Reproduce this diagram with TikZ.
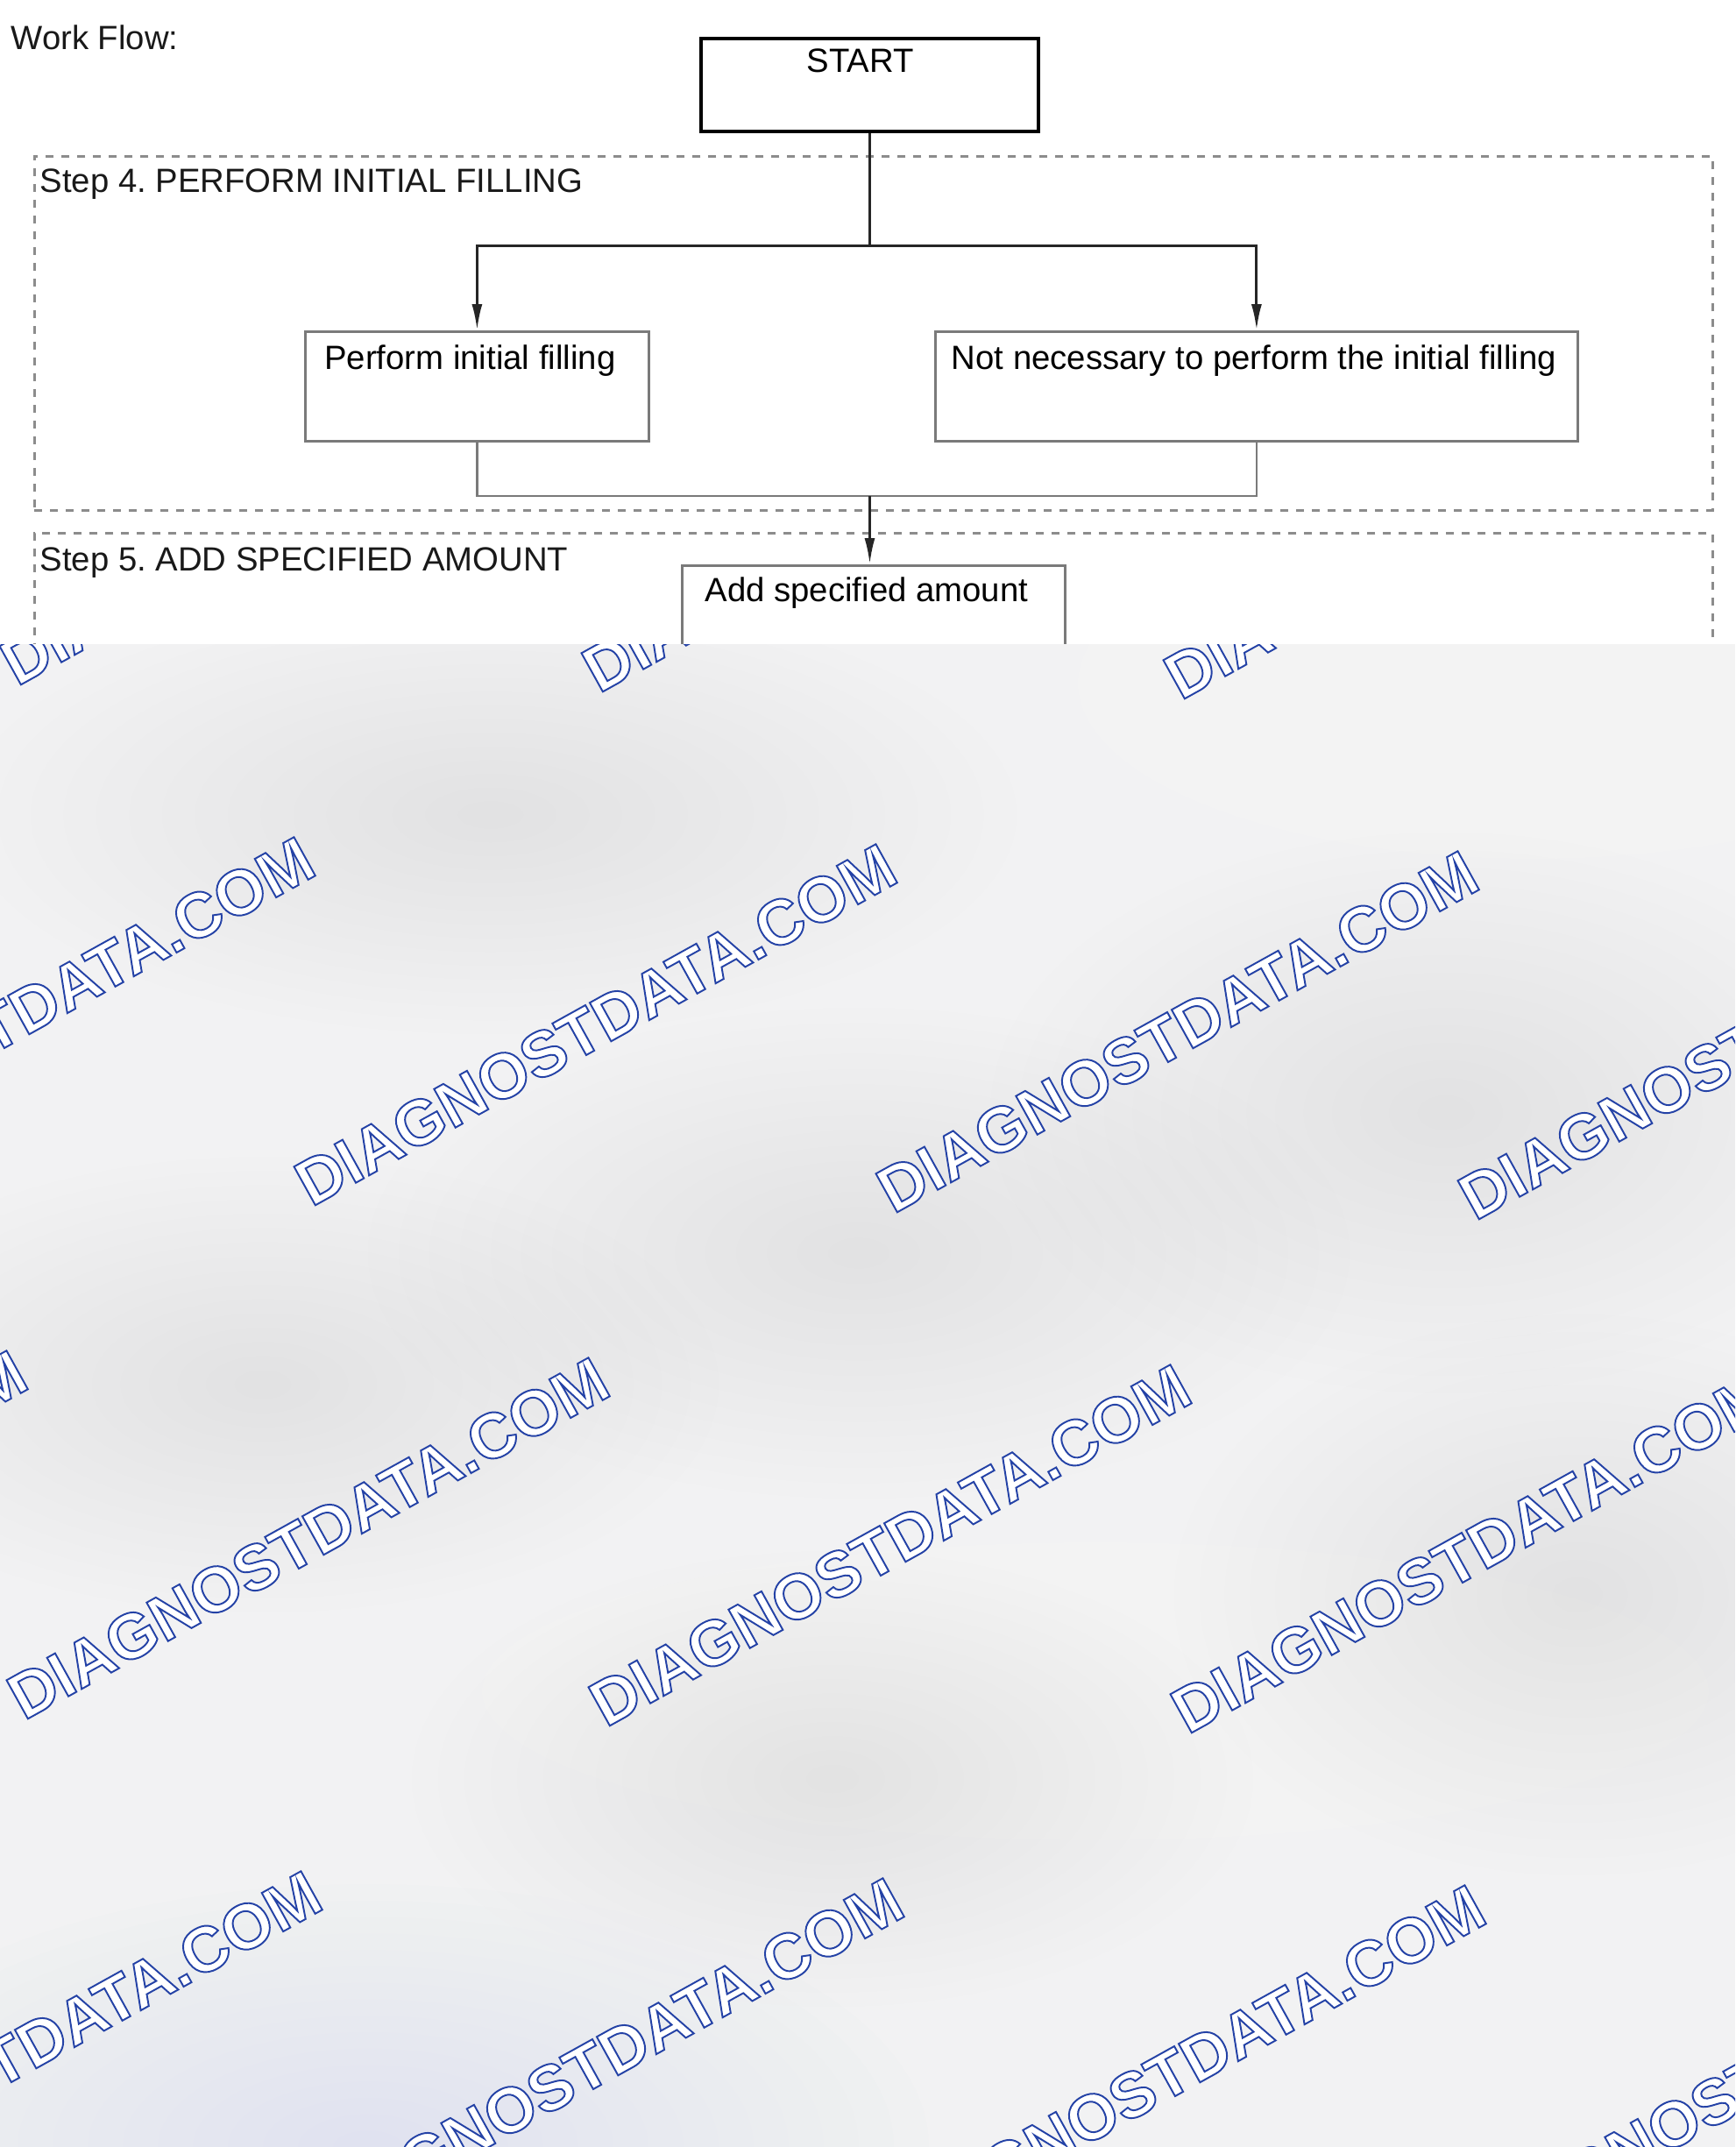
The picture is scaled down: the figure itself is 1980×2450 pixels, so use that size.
\documentclass[tikz,border=0pt]{standalone}
\usepackage{fontspec}
\setmainfont{Liberation Sans}
\newfontfamily\wmfont{Liberation Sans}
\usetikzlibrary{arrows.meta}
\frenchspacing
\definecolor{boxgray}{HTML}{7A7A7A}
\definecolor{dashgray}{HTML}{8C8C8C}
\definecolor{linedark}{HTML}{262626}
\definecolor{bgbase}{HTML}{F2F2F3}
\definecolor{bgshade}{HTML}{8A8A90}
\definecolor{bgblue}{HTML}{9AA8F0}
\newcommand\wmout[1]{\special{pdf:literal direct 2 Tr 0.55 w 0.14 0.26 0.65 RG}#1\special{pdf:literal direct 0 Tr}}
% soft blob: #1 colour, #2 opacity per layer, centre, radii
\newcommand\softblob[5]{%
  \foreach \k in {1,...,16}{%
    \fill[#1, opacity=#2] (#3) ellipse [x radius={#4*\k/16}, y radius={#5*\k/16}];%
  }%
}
\tikzset{
  startbox/.style={draw=black, line width=0.4mm, inner xsep=0pt, inner ysep=0pt, anchor=north west},
  procbox/.style={draw=boxgray, line width=0.28mm, inner xsep=0pt, inner ysep=0pt, anchor=north west, fill=white},
  groupbox/.style={draw=dashgray, line width=0.28mm, dash pattern=on 0.9mm off 0.9mm, inner sep=0pt, anchor=north west},
  label/.style={anchor=base west, inner sep=0pt, text=black!90},
  conn/.style={draw=linedark, line width=0.3mm},
  gconn/.style={draw=boxgray, line width=0.24mm},
  arr/.style={-{Latex[length=3mm,width=1.2mm]}},
  wm/.style={anchor=base west, rotate=29, inner sep=0pt, text=white,
    font=\wmfont\bfseries\fontsize{20.8pt}{22pt}\selectfont}
}
\begin{document}
\begin{tikzpicture}[x=0.1mm,y=-0.1mm, font=\fontsize{10.9pt}{13pt}\selectfont]
\useasboundingbox (0,0) rectangle (1980,2450);
\fill[white] (0,0) rectangle (1980,2450);

% titles and step frames
\node[label] (wf) at (12,56) {Work Flow:};
\node[groupbox, minimum width=191.5mm, minimum height=40.4mm] (step4) at (38,177) {};
\node[groupbox, minimum width=191.5mm, minimum height=40mm] (step5) at (38,607) {};
\node[label] (s4) at (45,219) {Step 4. PERFORM INITIAL FILLING};
\node[label] (s5) at (45,651) {Step 5. ADD SPECIFIED AMOUNT};

% boxes
\node[startbox, minimum width=38.5mm, text height=3.8mm, text depth=6.8mm] (start) at (798,42) {START\kern2.2mm};
\node[procbox, minimum width=39.2mm, text height=4.3mm, text depth=8.2mm] (perform) at (347,377) {Perform initial filling\kern1.6mm};
\node[procbox, minimum width=73.3mm, text height=4.3mm, text depth=8.2mm] (notnec) at (1066,377) {Not necessary to perform the initial filling\kern0.6mm};
\node[procbox, minimum width=43.7mm, text height=4.1mm, text depth=8mm] (add) at (777,644) {Add specified amount\kern1.6mm};

% connectors
\coordinate (top) at (0,280);
\coordinate (bot) at (0,566);
\draw[conn] (start.south) -- (start.south |- top);
\draw[conn, arr] (start.south |- top) -| (perform.north);
\draw[conn, arr] (start.south |- top) -| (notnec.north);
\draw[gconn] (perform.south) -- (perform.south |- bot) -- (notnec.south |- bot) -- (notnec.south);
\draw[conn, arr] (start.south |- bot) -- (start.south |- add.north);

% lower background and watermark
\begin{scope}
\clip (0,735) rectangle (1980,2450);
\fill[bgbase] (0,735) rectangle (1980,2450);
\softblob{white}{0.08}{1750,780}{520}{200}
\softblob{white}{0.08}{1250,1930}{700}{170}
\softblob{white}{0.07}{200,1330}{500}{160}
\softblob{bgshade}{0.007}{560,930}{600}{250}
\softblob{bgshade}{0.007}{980,1430}{560}{280}
\softblob{bgshade}{0.007}{1650,1270}{520}{320}
\softblob{bgshade}{0.006}{300,1580}{520}{260}
\softblob{bgshade}{0.007}{1800,1820}{460}{320}
\softblob{bgshade}{0.007}{950,2030}{480}{260}
\softblob{bgblue}{0.01}{420,2450}{640}{300}
\foreach \j in {-1,0,1,2}{
  \foreach \i in {-1,0,1,2,3}{
    \node[wm] (wm\i\j) at ({355+664*\i-328*\j},{1378+8*\i+586*\j}) {\wmout{DIAGNOSTDATA.COM}};
  }
}
\end{scope}
\end{tikzpicture}
\end{document}
